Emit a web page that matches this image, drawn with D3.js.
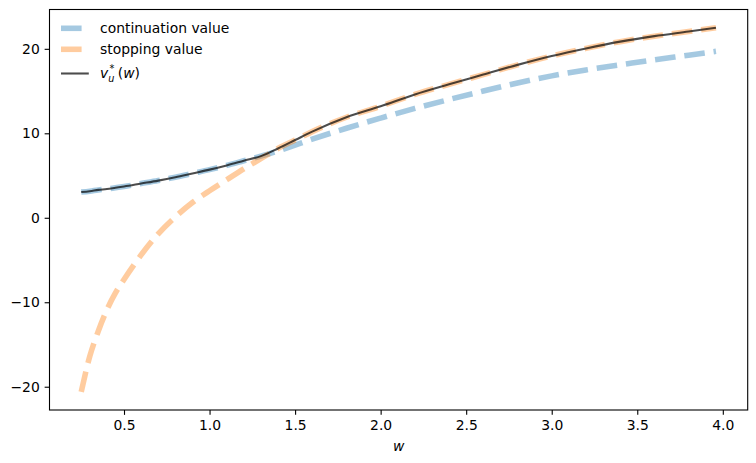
<!DOCTYPE html>
<html>
<head>
<meta charset="utf-8">
<script src="https://cdn.jsdelivr.net/npm/d3@7"></script>
<style>
  body { margin: 0; background: #fff; }
  text { font-family: "DejaVu Sans", sans-serif; }
</style>
</head>
<body>
<script>
// wage grid and the values
var wGrid = [0.25, 0.3, 0.35, 0.4, 0.45, 0.5, 0.6, 0.7, 0.8, 0.9, 1.0, 1.1, 1.2, 1.3, 1.4,
             1.5, 1.6, 1.8, 2.0, 2.2, 2.4, 2.6, 2.8, 3.0, 3.2, 3.4, 3.6, 3.8, 3.96]

var continuation = [3.05, 3.15, 3.3, 3.4, 3.55, 3.7, 4.05, 4.4, 4.8, 5.25, 5.7, 6.2, 6.75, 7.3, 7.9,
                    8.6, 9.3, 10.6, 11.8, 12.95, 14.0, 15.0, 15.95, 16.8, 17.5, 18.1, 18.7, 19.25, 19.7]

var stopping = [-20.6, -16.4, -13.4, -10.9, -8.9, -7.3, -4.4, -1.9, 0.1, 1.8, 3.2, 4.5, 5.8, 7.0, 8.2,
                9.2, 10.2, 11.9, 13.2, 14.6, 15.8, 16.95, 18.1, 19.15, 20.05, 20.85, 21.5, 22.05, 22.5]

var vStar = [3.05, 3.15, 3.3, 3.4, 3.55, 3.7, 4.05, 4.4, 4.8, 5.25, 5.7, 6.2, 6.75, 7.3, 8.2,
             9.2, 10.2, 11.9, 13.2, 14.6, 15.8, 16.95, 18.1, 19.15, 20.05, 20.85, 21.5, 22.05, 22.5]

var xTicks = [0.5, 1.0, 1.5, 2.0, 2.5, 3.0, 3.5, 4.0]
var yTicks = [-20, -10, 0, 10, 20]

var W = 756, H = 463
var box = { left: 49.5, right: 747.7, top: 9.5, bottom: 410 }

var svg = d3.select('body')
    .append('svg')
    .attr('width', W)
    .attr('height', H)

// matplotlib style 5% margins
function padded(ext) {
    var s = ext[1] - ext[0]
    return [ext[0] - 0.05 * s, ext[1] + 0.05 * s]
}

var x = d3.scaleLinear()
    .domain(padded(d3.extent(wGrid)))
    .range([box.left, box.right])

var allY = continuation.concat(stopping)
var y = d3.scaleLinear()
    .domain(padded(d3.extent(allY)))
    .range([box.bottom, box.top])

function line(vals) {
    return d3.line()
        .x(function (d, i) { return x(wGrid[i]) })
        .y(function (d) { return y(d) })
        .curve(d3.curveMonotoneX)(vals)
}

var dash = '20.6,8.9'

svg.append('path')
    .attr('d', line(continuation))
    .attr('fill', 'none')
    .attr('stroke', '#1f77b4')
    .attr('stroke-opacity', 0.4)
    .attr('stroke-width', 5.56)
    .attr('stroke-dasharray', dash)

svg.append('path')
    .attr('d', line(stopping))
    .attr('fill', 'none')
    .attr('stroke', '#ff7f0e')
    .attr('stroke-opacity', 0.4)
    .attr('stroke-width', 5.56)
    .attr('stroke-dasharray', dash)

svg.append('path')
    .attr('d', line(vStar))
    .attr('fill', 'none')
    .attr('stroke', '#000')
    .attr('stroke-opacity', 0.7)
    .attr('stroke-width', 2.08)

// axes
var xAxis = d3.axisBottom(x)
    .tickValues(xTicks)
    .tickSize(4.86)
    .tickPadding(4.86)
    .tickFormat(d3.format('.1f'))

var yAxis = d3.axisLeft(y)
    .tickValues(yTicks)
    .tickSize(4.86)
    .tickPadding(4.86)
    .tickFormat(function (d) { return d < 0 ? '\u2212' + Math.abs(d) : d })

var gx = svg.append('g')
    .attr('transform', `translate(0,${box.bottom})`)
    .call(xAxis)
var gy = svg.append('g')
    .attr('transform', `translate(${box.left},0)`)
    .call(yAxis)

;[gx, gy].forEach(function (g) {
    g.select('.domain').remove()
    g.selectAll('line').attr('stroke', '#000').attr('stroke-width', 1.1)
    g.selectAll('text').attr('fill', '#000').style('font-size', '13.9px')
})

svg.append('rect')
    .attr('x', box.left)
    .attr('y', box.top)
    .attr('width', box.right - box.left)
    .attr('height', box.bottom - box.top)
    .attr('fill', 'none')
    .attr('stroke', '#000')
    .attr('stroke-width', 1.1)

svg.append('text')
    .attr('x', (box.left + box.right) / 2)
    .attr('y', 451)
    .attr('text-anchor', 'middle')
    .style('font-size', '13.9px')
    .style('font-style', 'italic')
    .text('w')

// legend
var legend = [
    { label: 'continuation value', color: '#1f77b4', op: 0.4, sw: 5.56, dash: dash, y: 28.3 },
    { label: 'stopping value', color: '#ff7f0e', op: 0.4, sw: 5.56, dash: dash, y: 49.3 },
    { label: null, color: '#000', op: 0.7, sw: 2.08, dash: null, y: 73.5 }
]

var lg = svg.append('g')
legend.forEach(function (e) {
    lg.append('line')
        .attr('x1', 61).attr('x2', 88.8)
        .attr('y1', e.y).attr('y2', e.y)
        .attr('stroke', e.color)
        .attr('stroke-opacity', e.op)
        .attr('stroke-width', e.sw)
        .attr('stroke-dasharray', e.dash)
    if (e.label) {
        lg.append('text')
            .attr('x', 100)
            .attr('y', e.y + 5)
            .style('font-size', '13.9px')
            .text(e.label)
    }
})

var mt = lg.append('text')
    .attr('x', 100)
    .attr('y', 78)
    .style('font-size', '13.9px')
mt.append('tspan').style('font-style', 'italic').text('v')
mt.append('tspan').attr('dy', 4).style('font-size', '9.7px').style('font-style', 'italic').text('u')
mt.append('tspan').attr('dx', -5).attr('dy', -10).style('font-size', '9.7px').text('*')
mt.append('tspan').attr('dx', 3.5).attr('dy', 6).text('(')
mt.append('tspan').style('font-style', 'italic').text('w')
mt.append('tspan').text(')')
</script>
</body>
</html>
